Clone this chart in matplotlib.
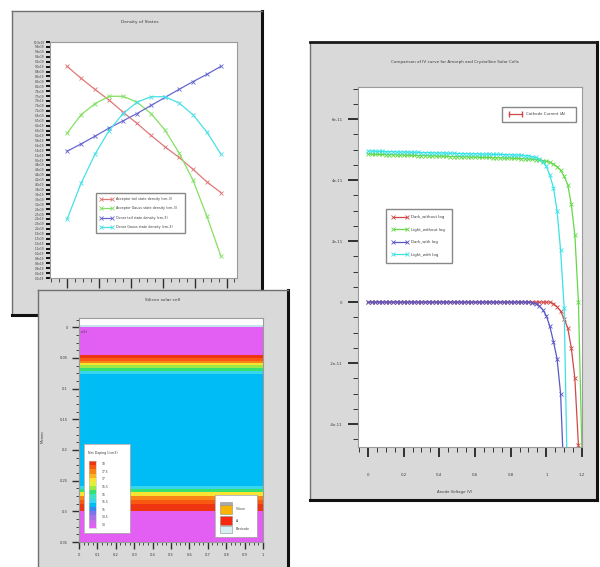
import numpy as np
import matplotlib
matplotlib.use('Agg')
import matplotlib.pyplot as plt
from matplotlib.colors import ListedColormap
from matplotlib.ticker import MultipleLocator, FixedLocator
from matplotlib.lines import Line2D
from matplotlib.patches import Rectangle

plt.rcParams['font.family'] = ['Liberation Sans Narrow', 'DejaVu Sans']

# ---------------- DATA ----------------
# Panel 1: Density of States (arbitrary units, 0..100 axis)
dos_x = [0.0, 0.1, 0.2, 0.3, 0.4, 0.5, 0.6, 0.7, 0.8, 0.9, 1.0, 1.1]
dos_acceptor_tail = [89.7, 84.6, 79.9, 75.4, 70.3, 65.5, 60.4, 55.6, 51.1, 46.1, 40.7, 36.2]
dos_acceptor_gauss = [61.3, 69.2, 73.9, 77.0, 77.0, 74.5, 69.7, 62.7, 53.1, 41.5, 26.1, 9.2]
dos_donor_tail = [53.7, 56.8, 60.1, 63.5, 66.6, 69.7, 73.1, 76.5, 79.9, 83.2, 86.3, 89.7]
dos_donor_gauss = [24.9, 40.1, 52.5, 62.4, 69.7, 74.5, 76.8, 76.8, 74.2, 69.2, 61.8, 52.5]
dos_series_labels = ['Acceptor tail state density (cm-3)',
                     'Acceptor Gauss state density (cm-3)',
                     'Donor tail state density (cm-3)',
                     'Donor Gauss state density (cm-3)']
dos_ytick_values = list(np.linspace(0, 100, 49))
dos_ytick_labels = ['%.1fe19' % (v / 10.0) for v in dos_ytick_values]

# Panel 2: Silicon solar cell, net doping profile (colour level per depth layer)
cell_depth_edges = [-0.015, -0.004, 0.000, 0.045, 0.050, 0.055, 0.058, 0.061, 0.066,
                    0.071, 0.077, 0.259, 0.264, 0.268, 0.275, 0.281, 0.288, 0.299, 0.352]
OXIDE = 99  # thin surface layer (drawn with the 'over' colour)
cell_doping_level = [np.nan, OXIDE, 0, 15, 14, 13, 11, 9, 8, 6, 5, 6, 8, 11, 13, 14, 15, 0]
doping_colors = ['#e35ef2', '#c86cec', '#a872e6', '#7c74ea', '#3c86f0', '#00bcf6',
                 '#38d6ec', '#40e0c4', '#36e070', '#9ee846', '#dcf03c', '#f8e232',
                 '#f8b424', '#f88418', '#f85812', '#ee3410']
doping_legend_labels = ['18', '17.5', '17', '16.5', '16', '15.5', '15', '14.5', '14']
cell_xticks = [0, 0.1, 0.2, 0.3, 0.4, 0.5, 0.6, 0.7, 0.8, 0.9, 1.0]
cell_xtick_labels = ['0', '0.1', '0.2', '0.3', '0.4', '0.5', '0.6', '0.7', '0.8', '0.9', '1']
cell_yticks = [0, 0.05, 0.1, 0.15, 0.2, 0.25, 0.3, 0.35]
cell_ytick_labels = ['0', '0.05', '0.1', '0.15', '0.2', '0.25', '0.3', '0.35']
material_names = ['', 'Silicon', 'Al', 'Electrode']
material_colors = ['#a8a8b0', '#f8b400', '#f82810', '#d8f0f4']

# Panel 3: IV curves (current in units of 1e-11 A)
iv_voltage = [round(0.02 * i, 2) for i in range(61)]
iv_light_with = [4.95, 4.95, 4.94, 4.94, 4.94, 4.93, 4.93, 4.93, 4.92, 4.92,
                 4.92, 4.92, 4.91, 4.91, 4.91, 4.90, 4.90, 4.90, 4.89, 4.89,
                 4.89, 4.89, 4.88, 4.88, 4.88, 4.87, 4.87, 4.87, 4.86, 4.86,
                 4.86, 4.86, 4.85, 4.85, 4.85, 4.84, 4.84, 4.84, 4.83, 4.83,
                 4.83, 4.82, 4.82, 4.81, 4.80, 4.79,
                 4.77, 4.74, 4.69, 4.60, 4.45, 4.15, 3.75, 3.00, 1.70, -0.20,
                 -6.50, -12.0, -18.0, -25.0, -33.0]
iv_light_without = [4.85, 4.85, 4.84, 4.84, 4.84, 4.83, 4.83, 4.83, 4.82, 4.82,
                    4.82, 4.81, 4.81, 4.81, 4.80, 4.80, 4.80, 4.79, 4.79, 4.79,
                    4.78, 4.78, 4.78, 4.77, 4.77, 4.77, 4.76, 4.76, 4.76, 4.75,
                    4.75, 4.75, 4.74, 4.74, 4.74, 4.73, 4.73, 4.73, 4.72, 4.72,
                    4.72, 4.71, 4.71, 4.70, 4.70, 4.69,
                    4.68, 4.67, 4.66, 4.64, 4.62, 4.58, 4.52, 4.44, 4.32, 4.12,
                    3.85, 3.20, 2.20, 0.00, -5.00]
iv_dark_with = [0.0, 0.0, 0.0, 0.0, 0.0, 0.0, 0.0, 0.0, 0.0, 0.0,
                0.0, 0.0, 0.0, 0.0, 0.0, 0.0, 0.0, 0.0, 0.0, 0.0,
                0.0, 0.0, 0.0, 0.0, 0.0, 0.0, 0.0, 0.0, 0.0, 0.0,
                0.0, 0.0, 0.0, 0.0, 0.0, 0.0, 0.0, 0.0, 0.0, 0.0,
                0.0, 0.0, 0.0, 0.0, 0.0, 0.0,
                -0.02, -0.05, -0.12, -0.25, -0.45, -0.80, -1.30, -1.85, -3.00, -6.00,
                -12.0, -20.0, -30.0, -42.0, -55.0]
iv_dark_without = [0.0, 0.0, 0.0, 0.0, 0.0, 0.0, 0.0, 0.0, 0.0, 0.0,
                   0.0, 0.0, 0.0, 0.0, 0.0, 0.0, 0.0, 0.0, 0.0, 0.0,
                   0.0, 0.0, 0.0, 0.0, 0.0, 0.0, 0.0, 0.0, 0.0, 0.0,
                   0.0, 0.0, 0.0, 0.0, 0.0, 0.0, 0.0, 0.0, 0.0, 0.0,
                   0.0, 0.0, 0.0, 0.0, 0.0, 0.0, 0.0, 0.0, 0.0, 0.0,
                   0.0, 0.0,
                   -0.05, -0.15, -0.30, -0.55, -0.85, -1.50, -2.50, -4.70, -9.00]
iv_series_labels = ['Dark_without log', 'Light_without log', 'Dark_with log', 'Light_with log']
iv_xticks = [0, 0.2, 0.4, 0.6, 0.8, 1.0, 1.2]
iv_xtick_labels = ['0', '0.2', '0.4', '0.6', '0.8', '1', '1.2']
iv_yticks = [-4, -2, 0, 2, 4, 6]
iv_ytick_labels = ['-4e-11', '-2e-11', '0', '2e-11', '4e-11', '6e-11']

# ---------------- FIGURE ----------------
W, H = 600, 567
fig = plt.figure(figsize=(6, 5.67), dpi=100)
fig.patch.set_facecolor('white')

TXT = '#3c3c3c'
FRAME = '#d9d9d9'


def rect(x0, y0, x1, y1):
    return [x0 / W, 1 - y1 / H, (x1 - x0) / W, (y1 - y0) / H]


def fxy(x, y):
    return x / W, 1 - y / H


def frame(x0, y0, x1, y1, dark_top=False):
    ax = fig.add_axes(rect(x0, y0, x1, y1))
    ax.set_facecolor(FRAME)
    ax.set_xticks([])
    ax.set_yticks([])
    ax.spines['left'].set(color='#707070', lw=1.0)
    ax.spines['top'].set(color='#1a1a1a' if dark_top else '#707070', lw=2.0 if dark_top else 1.0)
    ax.spines['right'].set(color='#111111', lw=2.2)
    ax.spines['bottom'].set(color='#111111', lw=2.2)
    return ax


def plot_spines(ax):
    for s in ax.spines.values():
        s.set(color='#9a9a9a', lw=0.8)


# ---------- Panel 1: Density of States ----------
frame(12, 11, 262, 315)
fig.text(*fxy(140, 22), 'Density of States', fontsize=3.2, color=TXT, ha='center', va='center')
ax1 = fig.add_axes(rect(50, 42, 237, 278))
plot_spines(ax1)
dos_colors = ['#e07878', '#84e062', '#6868d0', '#48e0e6']
for ys, c, lab in zip([dos_acceptor_tail, dos_acceptor_gauss, dos_donor_tail, dos_donor_gauss],
                      dos_colors, dos_series_labels):
    ax1.plot(dos_x, ys, color=c, lw=0.9, marker='x', ms=2.2, mew=0.6, label=lab)
ax1.set_xlim(-0.122, 1.215)
ax1.set_ylim(0, 100)
ax1.yaxis.set_major_locator(FixedLocator(dos_ytick_values))
ax1.set_yticklabels(dos_ytick_labels)
ax1.tick_params(axis='y', length=3, width=1.3, color='black', labelsize=2.0, pad=1, labelcolor=TXT)
ax1.xaxis.set_major_locator(MultipleLocator(0.228))
ax1.xaxis.set_minor_locator(MultipleLocator(0.057))
ax1.tick_params(axis='x', which='major', length=7, width=1.0, color='#303030', labelbottom=False)
ax1.tick_params(axis='x', which='minor', length=3, width=0.6, color='#303030')
ax1.legend(loc='lower left', bbox_to_anchor=(0.246, 0.19, 0.476, 0.195), mode='expand',
           borderaxespad=0, fontsize=2.4, fancybox=False, edgecolor='#888888', framealpha=1,
           handlelength=4, labelspacing=1.6, borderpad=1.2, numpoints=2, labelcolor=TXT)

# ---------- Panel 2: Silicon solar cell ----------
frame(38, 290, 288, 575)
fig.text(*fxy(163, 300), 'Silicon solar cell', fontsize=3.2, color=TXT, ha='center', va='center')
fig.text(*fxy(43, 437), 'Microns', fontsize=2.4, color=TXT, ha='center', va='center', rotation=90)
ax2 = fig.add_axes(rect(79, 318, 263, 542))
plot_spines(ax2)
cmap = ListedColormap(doping_colors)
cmap.set_over('#c4e2f4')
cmap.set_bad('white')
C = np.ma.masked_invalid(np.array(cell_doping_level, dtype=float)[:, None])
ax2.pcolormesh([0, 1], cell_depth_edges, C, cmap=cmap, vmin=-0.5, vmax=15.5)
ax2.set_xlim(0, 1)
ax2.set_ylim(0.348, -0.015)
ax2.set_xticks(cell_xticks)
ax2.set_xticklabels(cell_xtick_labels)
ax2.xaxis.set_minor_locator(MultipleLocator(0.025))
ax2.set_yticks(cell_yticks)
ax2.set_yticklabels(cell_ytick_labels)
ax2.yaxis.set_minor_locator(MultipleLocator(0.0125))
ax2.tick_params(which='major', length=5, width=1.0, color='#303030', labelsize=2.6,
                labelcolor=TXT, pad=3)
ax2.tick_params(which='minor', length=2.5, width=0.6, color='#303030')
ax2.text(0.01, 0.005, 'a-Si', fontsize=2.4, color=TXT, ha='left', va='top')

# doping legend
axl = fig.add_axes(rect(84, 444, 130, 533))
axl.set_facecolor('white')
axl.set_xticks([]); axl.set_yticks([])
for s in axl.spines.values():
    s.set(color='#b0b0b0', lw=0.6)
axl.text(0.08, 0.9, 'Net Doping (/cm3)', fontsize=2.3, color=TXT, transform=axl.transAxes,
         ha='left', va='center')
axc = fig.add_axes(rect(89, 461, 96, 528))
axc.imshow(np.arange(len(doping_colors))[::-1][:, None], cmap=ListedColormap(doping_colors),
           aspect='auto', vmin=-0.5, vmax=15.5, interpolation='nearest')
axc.set_xticks([]); axc.set_yticks([])
for s in axc.spines.values():
    s.set(color='#c0c0c0', lw=0.4)
for i, lab in enumerate(doping_legend_labels):
    frac = 1 - i / (len(doping_legend_labels) - 1)
    yy = 461 + 3 + (1 - frac) * (528 - 467)
    fig.text(*fxy(102, yy), lab, fontsize=2.2, color=TXT, ha='left', va='center')

# material legend
axm = fig.add_axes(rect(215, 495, 257, 537))
axm.set_facecolor('white')
axm.set_xticks([]); axm.set_yticks([])
axm.set_xlim(0, 42); axm.set_ylim(42, 0)
for s in axm.spines.values():
    s.set(color='#b0b0b0', lw=0.6)
mat_tops = [7, 10, 21, 31]
mat_heights = [3, 9, 9, 7]
for name, col, t, h in zip(material_names, material_colors, mat_tops, mat_heights):
    axm.add_patch(Rectangle((5, t), 12, h, facecolor=col, edgecolor='#909090', lw=0.4))
    if name:
        axm.text(21, t + h / 2, name, fontsize=2.2, color=TXT, ha='left', va='center')

# ---------- Panel 3: IV curves ----------
frame(310, 42, 597, 500, dark_top=True)
fig.text(*fxy(455, 62), 'Comparison of IV curve for Amorph and Crystalline Solar Cells',
         fontsize=3.0, color=TXT, ha='center', va='center')
fig.text(*fxy(455, 492), 'Anode Voltage (V)', fontsize=2.8, color=TXT, ha='center', va='center')
ax3 = fig.add_axes(rect(358, 87, 582, 447))
plot_spines(ax3)
iv_colors = ['#d04848', '#66d848', '#5858c4', '#38e2e6']
handles = []
for ys, c, lab in zip([iv_dark_without, iv_light_without, iv_dark_with, iv_light_with],
                      iv_colors, iv_series_labels):
    h, = ax3.plot(iv_voltage, ys, color=c, lw=0.9, marker='x', ms=2.4, mew=0.6, label=lab)
    handles.append(h)
ax3.set_xlim(-0.056, 1.2)
ax3.set_ylim(-4.75, 7.05)
ax3.set_xticks(iv_xticks)
ax3.set_xticklabels(iv_xtick_labels)
ax3.xaxis.set_minor_locator(MultipleLocator(0.05))
ax3.set_yticks(iv_yticks)
ax3.set_yticklabels(iv_ytick_labels)
ax3.yaxis.set_minor_locator(MultipleLocator(0.5))
ax3.tick_params(which='major', length=7, width=1.4, color='#303030', labelsize=2.8,
                labelcolor=TXT, pad=4)
ax3.tick_params(which='minor', length=3.5, width=0.7, color='#303030')
ax3.tick_params(axis='x', which='major', pad=12)

leg1 = ax3.legend(handles=[Line2D([0], [0], color='#d04848', lw=0.9, marker='|', ms=4)],
                  labels=['Cathode Current (A)'], loc='lower left',
                  bbox_to_anchor=(0.643, 0.903, 0.33, 0.075), mode='expand', borderaxespad=0,
                  fontsize=2.8, fancybox=False, edgecolor='#888888', framealpha=1,
                  handlelength=4, numpoints=2, borderpad=1.4, labelcolor=TXT)
ax3.add_artist(leg1)
ax3.legend(handles=handles, loc='lower left', bbox_to_anchor=(0.125, 0.511, 0.295, 0.194),
           mode='expand', borderaxespad=0, fontsize=2.8, fancybox=False, edgecolor='#888888',
           framealpha=1, handlelength=4, labelspacing=2.2, borderpad=1.6, numpoints=2,
           labelcolor=TXT)

fig.savefig('out.png', dpi=100, facecolor='white')
